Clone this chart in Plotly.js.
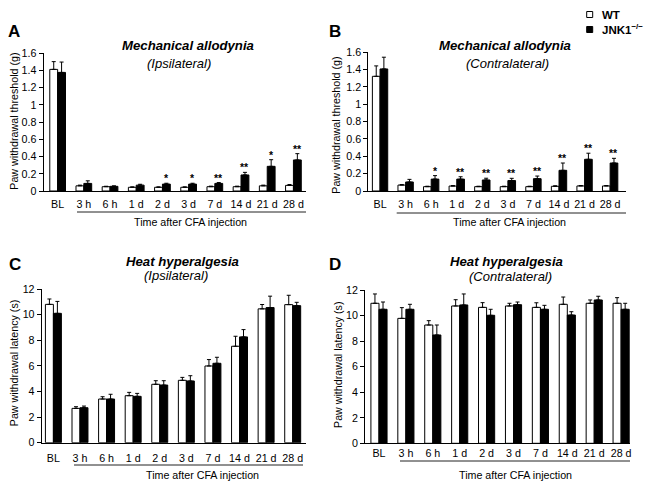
<!DOCTYPE html>
<html>
<head>
<meta charset="utf-8">
<script src="https://cdn.plot.ly/plotly-3.0.1.min.js"></script>
<style>html,body{margin:0;padding:0;background:#fff;}#chart{width:649px;height:489px;}</style>
</head>
<body>
<div id="chart"></div>
<script>
// ---- data ----
const categories = ['BL', '3 h', '6 h', '1 d', '2 d', '3 d', '7 d', '14 d', '21 d', '28 d'];
const seriesNames = ['WT', 'JNK1<sup>\u2212/\u2212</sup>'];

// A: Mechanical allodynia, ipsilateral (g)
const wtA = [1.41, 0.06, 0.05, 0.043, 0.043, 0.043, 0.05, 0.05, 0.06, 0.065];
const wtAerr = [0.09, 0.008, 0.005, 0.005, 0.005, 0.005, 0.006, 0.006, 0.008, 0.01];
const koA = [1.375, 0.088, 0.054, 0.068, 0.08, 0.08, 0.088, 0.186, 0.286, 0.36];
const koAerr = [0.12, 0.03, 0.006, 0.01, 0.01, 0.01, 0.01, 0.03, 0.077, 0.073];
const sigA = ['', '', '', '', '*', '*', '**', '**', '*', '**'];

// B: Mechanical allodynia, contralateral (g)
const wtB = [1.32, 0.068, 0.05, 0.057, 0.05, 0.05, 0.05, 0.054, 0.058, 0.058];
const wtBerr = [0.12, 0.006, 0.005, 0.005, 0.005, 0.005, 0.005, 0.006, 0.005, 0.005];
const koB = [1.405, 0.104, 0.137, 0.137, 0.127, 0.12, 0.142, 0.238, 0.365, 0.322];
const koBerr = [0.135, 0.03, 0.04, 0.027, 0.02, 0.026, 0.03, 0.084, 0.07, 0.054];
const sigB = ['', '', '*', '**', '**', '**', '**', '**', '**', '**'];

// C: Heat hyperalgesia, ipsilateral (s)
const wtC = [10.8, 2.68, 3.41, 3.67, 4.56, 4.87, 5.99, 7.53, 10.45, 10.78];
const wtCerr = [0.42, 0.13, 0.18, 0.26, 0.28, 0.23, 0.5, 0.78, 0.34, 0.73];
const koC = [10.1, 2.73, 3.41, 3.62, 4.5, 4.82, 6.2, 8.26, 10.55, 10.7];
const koCerr = [0.93, 0.13, 0.37, 0.23, 0.34, 0.41, 0.47, 0.57, 0.89, 0.26];

// D: Heat hyperalgesia, contralateral (s)
const wtD = [10.96, 9.78, 9.26, 10.75, 10.64, 10.75, 10.64, 10.88, 10.96, 10.96];
const wtDerr = [0.73, 0.84, 0.34, 0.49, 0.37, 0.21, 0.36, 0.57, 0.26, 0.44];
const koD = [10.49, 10.49, 8.48, 10.83, 10.02, 10.85, 10.49, 10.04, 11.22, 10.49];
const koDerr = [0.57, 0.39, 0.78, 0.86, 0.47, 0.21, 0.31, 0.26, 0.29, 0.47];

const mechTicks = [0, 0.2, 0.4, 0.6, 0.8, 1, 1.2, 1.4, 1.6];
const heatTicks = [0, 2, 4, 6, 8, 10, 12];

const panelLetters = ['A', 'B', 'C', 'D'];
const panelTitles = ['Mechanical allodynia', 'Mechanical allodynia', 'Heat hyperalgesia', 'Heat hyperalgesia'];
const panelSubtitles = ['(Ipsilateral)', '(Contralateral)', '(Ipsilateral)', '(Contralateral)'];
const yTitles = ['Paw withdrawal threshold (g)', 'Paw withdrawal threshold (g)', 'Paw withdrawal latency (s)', 'Paw withdrawal latency (s)'];
const xTitle = 'Time after CFA injection';

// ---- layout helpers ----
const W = 649, H = 489;
const FONT = 'Liberation Sans, Arial, Helvetica, sans-serif';
const px = v => v / W;
const py = v => 1 - v / H;

const panels = [
  {wt: wtA, wte: wtAerr, ko: koA, koe: koAerr, sig: sigA, xd: [43.5, 306], yd: [191, 53], xr: [-0.54, 9.48], yr: [0, 1.6], tv: mechTicks, tl: 3,
   letter: [14, 32], title: [188, 46], sub: [179, 63.3], ytitle: [13.7, 121], line: [77, 306, 212], xt: [190, 222]},
  {wt: wtB, wte: wtBerr, ko: koB, koe: koBerr, sig: sigB, xd: [368.3, 626], yd: [191, 52], xr: [-0.46, 9.62], yr: [0, 1.6], tv: mechTicks, tl: 3,
   letter: [335, 32], title: [504.5, 46], sub: [507.5, 63.3], ytitle: [335.7, 125], line: [396.7, 626, 213], xt: [510, 222]},
  {wt: wtC, wte: wtCerr, ko: koC, koe: koCerr, sig: null, xd: [41.7, 306], yd: [442.7, 289], xr: [-0.44, 9.5], yr: [0, 12], tv: heatTicks, tl: 5,
   letter: [15, 264], title: [182.2, 261.7], sub: [176.3, 275], ytitle: [13.7, 362.5], line: [74, 303, 465], xt: [202, 475]},
  {wt: wtD, wte: wtDerr, ko: koD, koe: koDerr, sig: null, xd: [365, 630], yd: [443.3, 290], xr: [-0.52, 9.33], yr: [0, 12], tv: heatTicks, tl: 0,
   letter: [335, 264], title: [506.3, 261.7], sub: [510.5, 276], ytitle: [338, 365], line: [400, 630, 461], xt: [515, 475]}
];

const traces = [];
const annotations = [];
const shapes = [];
const layout = {
  width: W, height: H,
  margin: {l: 0, r: 0, t: 0, b: 0},
  paper_bgcolor: '#fff', plot_bgcolor: '#fff',
  font: {family: FONT, color: '#000', size: 10.7},
  barmode: 'group', bargap: 0.4, bargroupgap: 0,
  showlegend: false
};

panels.forEach((p, i) => {
  const n = i === 0 ? '' : String(i + 1);
  const xa = 'x' + n, ya = 'y' + n;
  const zeros = p.wt.map(() => 0);
  traces.push({
    type: 'bar', name: seriesNames[0], x: categories, y: p.wt, xaxis: xa, yaxis: ya,
    marker: {color: '#fff', line: {color: '#000', width: 1}},
    error_y: {type: 'data', symmetric: false, array: p.wte, arrayminus: zeros, color: '#000', thickness: 1, width: 2}
  });
  traces.push({
    type: 'bar', name: seriesNames[1], x: categories, y: p.ko, xaxis: xa, yaxis: ya,
    marker: {color: '#000', line: {color: '#000', width: 1}},
    error_y: {type: 'data', symmetric: false, array: p.koe, arrayminus: zeros, color: '#000', thickness: 1, width: 2}
  });
  layout['xaxis' + n] = {
    domain: [px(p.xd[0]), px(p.xd[1])], range: p.xr, type: 'category', anchor: ya,
    showline: true, linecolor: '#000', linewidth: 1, showgrid: false, zeroline: false,
    ticks: p.tl > 0 ? 'outside' : '', ticklen: p.tl, tickcolor: 'rgba(0,0,0,0)',
    tickfont: {size: 10.7, color: '#000', family: FONT}, fixedrange: true
  };
  layout['yaxis' + n] = {
    domain: [py(p.yd[0]), py(p.yd[1])], range: p.yr, anchor: xa,
    tickvals: p.tv, ticks: 'outside', ticklen: 4, tickwidth: 1, tickcolor: '#000',
    showline: true, linecolor: '#000', linewidth: 1, showgrid: false, zeroline: false,
    tickfont: {size: 10.7, color: '#000', family: FONT}, fixedrange: true
  };
  // significance stars above JNK1 bars
  if (p.sig) {
    const step = (p.xd[1] - p.xd[0]) / (p.xr[1] - p.xr[0]);
    const off = step * (1 - layout.bargap) / 4;
    p.sig.forEach((s, k) => {
      if (!s) return;
      annotations.push({
        xref: xa, yref: ya, x: categories[k], y: p.ko[k] + p.koe[k], text: '<b>' + s + '</b>',
        xshift: off, yshift: -3, xanchor: 'center', yanchor: 'bottom', showarrow: false,
        font: {size: 10.5, color: '#000', family: FONT}
      });
    });
  }
  const paperText = (t, pos, font, extra) => Object.assign({
    xref: 'paper', yref: 'paper', x: px(pos[0]), y: py(pos[1]), text: t,
    xanchor: 'center', yanchor: 'middle', showarrow: false, font: font
  }, extra || {});
  annotations.push(paperText('<b>' + panelLetters[i] + '</b>', p.letter, {size: 17, family: FONT, color: '#000'}));
  annotations.push(paperText('<b><i>' + panelTitles[i] + '</i></b>', p.title, {size: 13.2, family: FONT, color: '#000'}));
  annotations.push(paperText('<i>' + panelSubtitles[i] + '</i>', p.sub, {size: 13, family: FONT, color: '#000'}));
  annotations.push(paperText(yTitles[i], p.ytitle, {size: 10.7, family: FONT, color: '#000'}, {textangle: -90}));
  annotations.push(paperText(xTitle, p.xt, {size: 10.7, family: FONT, color: '#000'}));
  shapes.push({type: 'line', xref: 'paper', yref: 'paper', x0: px(p.line[0]), x1: px(p.line[1]), y0: py(p.line[2]), y1: py(p.line[2]),
    line: {color: '#222', width: 1}});
});

// legend (drawn manually)
const legendBoxes = [{y: 14.5, fill: '#fff'}, {y: 29.5, fill: '#000'}];
legendBoxes.forEach((b, k) => {
  shapes.push({type: 'rect', xref: 'paper', yref: 'paper', x0: px(586.7), x1: px(592.7), y0: py(b.y - 3), y1: py(b.y + 3),
    fillcolor: b.fill, line: {color: '#000', width: 1}});
  annotations.push({xref: 'paper', yref: 'paper', x: px(599.5), y: py(b.y), text: '<b>' + seriesNames[k] + '</b>',
    xanchor: 'left', yanchor: 'middle', showarrow: false, font: {size: 11.5, family: FONT, color: '#000'}});
});

layout.annotations = annotations;
layout.shapes = shapes;

Plotly.newPlot('chart', traces, layout, {displayModeBar: false, staticPlot: true});
</script>
</body>
</html>
